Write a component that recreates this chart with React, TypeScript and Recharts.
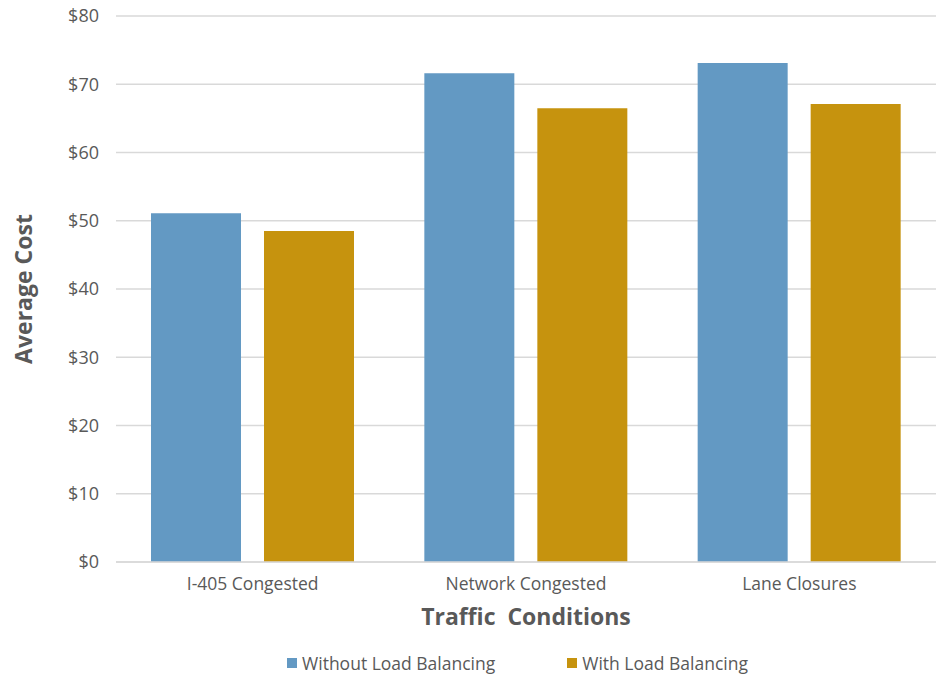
import React from "react";
import {
  Bar,
  BarChart,
  CartesianGrid,
  Label,
  Legend,
  XAxis,
  YAxis,
} from "recharts";

const categories = ["I-405 Congested", "Network Congested", "Lane Closures"];
const withoutLoadBalancing = [51.1, 71.6, 73.1];
const withLoadBalancing = [48.5, 66.5, 67.1];
const yTicks = [0, 10, 20, 30, 40, 50, 60, 70, 80];

const BLUE = "#6399C3";
const GOLD = "#C6930E";
const TEXT = "#595959";
const FONT = "'Open Sans', sans-serif";

const data = categories.map((name, i) => ({
  name,
  without: withoutLoadBalancing[i],
  with: withLoadBalancing[i],
}));

const LegendContent = () => (
  <div
    style={{
      display: "flex",
      justifyContent: "center",
      alignItems: "center",
      height: 24,
      fontFamily: FONT,
      fontSize: 17.5,
      color: TEXT,
      paddingLeft: 90,
    }}
  >
    <span style={{ display: "flex", alignItems: "center", marginRight: 72 }}>
      <span style={{ width: 10, height: 10, background: BLUE, marginRight: 5 }} />
      Without Load Balancing
    </span>
    <span style={{ display: "flex", alignItems: "center" }}>
      <span style={{ width: 10, height: 10, background: GOLD, marginRight: 5 }} />
      With Load Balancing
    </span>
  </div>
);

const App: React.FC = () => {
  return (
    <div style={{ position: "absolute", left: 0, top: 0, background: "#fff" }}>
      <BarChart
        width={945}
        height={675}
        data={data}
        margin={{ top: 16, right: 9, left: 0, bottom: 19 }}
        barSize={90}
        barGap={23}
      >
        <CartesianGrid vertical={false} stroke="#d9d9d9" strokeWidth={1.5} />
        <XAxis
          dataKey="name"
          height={70}
          axisLine={{ stroke: "#d9d9d9", strokeWidth: 1.5 }}
          tickLine={false}
          tickSize={0}
          tickMargin={16}
          tick={{ fill: TEXT, fontSize: 17.5, fontFamily: FONT }}
        >
          <Label
            value={"Traffic\u00a0\u00a0Conditions"}
            position="insideBottom"
            offset={7}
            style={{
              fill: TEXT,
              fontSize: 23,
              fontWeight: 700,
              fontFamily: FONT,
            }}
          />
        </XAxis>
        <YAxis
          width={116}
          domain={[0, 80]}
          ticks={yTicks}
          axisLine={false}
          tickLine={false}
          tickSize={0}
          tickMargin={17}
          tickFormatter={(v: number) => `$${v}`}
          tick={{ fill: TEXT, fontSize: 18, fontFamily: FONT }}
        >
          <Label
            value="Average Cost"
            position="center"
            angle={-90}
            dx={-34}
            style={{
              fill: TEXT,
              fontSize: 23,
              fontWeight: 700,
              fontFamily: FONT,
              textAnchor: "middle",
            }}
          />
        </YAxis>
        <Legend
          verticalAlign="bottom"
          content={<LegendContent />}
          wrapperStyle={{ top: 651, left: 0, width: 945 }}
        />
        <Bar
          dataKey="without"
          name="Without Load Balancing"
          fill={BLUE}
          isAnimationActive={false}
        />
        <Bar
          dataKey="with"
          name="With Load Balancing"
          fill={GOLD}
          isAnimationActive={false}
        />
      </BarChart>
    </div>
  );
};

export default App;
